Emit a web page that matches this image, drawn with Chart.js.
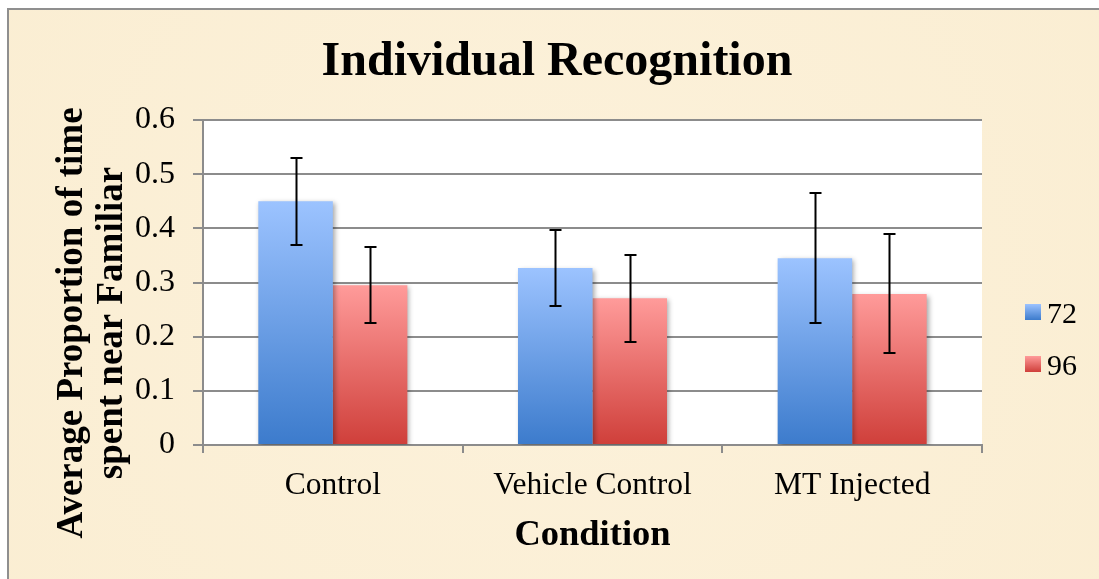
<!DOCTYPE html>
<html><head><meta charset="utf-8">
<script src="https://cdn.jsdelivr.net/npm/chart.js@4/dist/chart.umd.min.js"></script>
<style>html,body{margin:0;padding:0;background:#fff;overflow:hidden}</style>
</head><body>
<canvas id="c" width="1099" height="579"></canvas>
<script>
const categories = ['Control', 'Vehicle Control', 'MT Injected'];
const seriesNames = ['72', '96'];
const values72 = [0.450, 0.327, 0.345];
const values96 = [0.295, 0.271, 0.279];
const errors72 = [0.080, 0.070, 0.120];
const errors96 = [0.070, 0.080, 0.110];
const yTickLabels = ['0', '0.1', '0.2', '0.3', '0.4', '0.5', '0.6'];
const chartTitle = 'Individual Recognition';
const xTitle = 'Condition';
const yTitleLines = ['Average Proportion of time', 'spent near Familiar'];

const SERIF = '"Liberation Serif", "Times New Roman", serif';
const BLUE = ['#9cc3ff', '#3c7bcc'];
const RED = ['#ff9b9a', '#cf3f3a'];

function grad(cols) {
  return function (ctx) {
    const chart = ctx.chart;
    const y = chart.scales && chart.scales.y;
    if (!y || ctx.type !== 'data' || ctx.raw == null) return cols[1];
    const yTop = y.getPixelForValue(ctx.raw), yBase = y.getPixelForValue(0);
    if (!isFinite(yTop) || !isFinite(yBase) || yTop === yBase) return cols[1];
    const g = chart.ctx.createLinearGradient(0, yTop, 0, yBase);
    g.addColorStop(0, cols[0]);
    g.addColorStop(1, cols[1]);
    return g;
  };
}

const decor = {
  id: 'decor',
  beforeDraw(chart) {
    const c = chart.ctx, W = chart.width, H = chart.height, a = chart.chartArea;
    c.save();
    c.fillStyle = '#ffffff';
    c.fillRect(0, 0, W, H);
    const bg = c.createRadialGradient(W * 0.5, H * 0.5, 50, W * 0.5, H * 0.5, W * 0.7);
    bg.addColorStop(0, '#fcf1da');
    bg.addColorStop(1, '#faedd1');
    c.fillStyle = bg;
    c.fillRect(9, 10, W - 9, H - 10);
    c.strokeStyle = '#8f8f8f';
    c.lineWidth = 2;
    c.beginPath();
    c.moveTo(8, H); c.lineTo(8, 9); c.lineTo(W, 9);
    c.stroke();
    c.fillStyle = '#ffffff';
    c.fillRect(a.left, a.top, a.right - a.left, a.bottom - a.top);
    c.restore();
  },
  beforeDatasetDraw(chart) {
    const c = chart.ctx;
    c.save();
    c.shadowColor = 'rgba(0,0,0,0.35)';
    c.shadowBlur = 5;
    c.shadowOffsetX = 2;
    c.shadowOffsetY = 2;
  },
  afterDatasetDraw(chart) {
    chart.ctx.restore();
  },
  afterDatasetsDraw(chart) {
    const c = chart.ctx, y = chart.scales.y;
    c.save();
    c.strokeStyle = '#000';
    c.lineWidth = 2;
    chart.data.datasets.forEach((ds, i) => {
      const meta = chart.getDatasetMeta(i);
      meta.data.forEach((bar, j) => {
        const v = ds.data[j], e = ds.errors[j];
        const yHi = Math.round(y.getPixelForValue(v + e)), yLo = Math.round(y.getPixelForValue(v - e));
        const x = Math.round(bar.x) + 0.5;
        c.beginPath();
        c.moveTo(x, yHi); c.lineTo(x, yLo);
        c.moveTo(x - 6, yHi); c.lineTo(x + 6, yHi);
        c.moveTo(x - 6, yLo); c.lineTo(x + 6, yLo);
        c.stroke();
      });
    });
    c.restore();
  },
  afterDraw(chart) {
    const c = chart.ctx, a = chart.chartArea;
    c.save();
    c.fillStyle = '#000';
    c.textAlign = 'center';
    c.textBaseline = 'alphabetic';
    c.font = 'bold 48px ' + SERIF;
    c.fillText(chartTitle, 557, 75);
    c.font = 'bold 36.5px ' + SERIF;
    c.fillText(xTitle, (a.left + a.right) / 2, 545);
    c.save();
    c.translate(0, 323);
    c.rotate(-Math.PI / 2);
    c.font = 'bold 37px ' + SERIF;
    c.fillText(yTitleLines[0], 0, 82);
    c.fillText(yTitleLines[1], 0, 122);
    c.restore();
    // legend
    const cols = [BLUE, RED];
    const rows = [304, 356];
    c.textAlign = 'left';
    c.font = '30px ' + SERIF;
    seriesNames.forEach((n, i) => {
      const t = rows[i];
      const g = c.createLinearGradient(0, t, 0, t + 16);
      g.addColorStop(0, cols[i][0]);
      g.addColorStop(1, cols[i][1]);
      c.fillStyle = g;
      c.fillRect(1025, t, 16, 16);
      c.fillStyle = '#000';
      c.fillText(n, 1047, t + 19);
    });
    c.restore();
  }
};

new Chart(document.getElementById('c'), {
  type: 'bar',
  data: {
    labels: categories,
    datasets: [
      { label: seriesNames[0], data: values72, errors: errors72, backgroundColor: grad(BLUE), borderWidth: 0 },
      { label: seriesNames[1], data: values96, errors: errors96, backgroundColor: grad(RED), borderWidth: 0 }
    ]
  },
  options: {
    responsive: false,
    animation: false,
    devicePixelRatio: 1,
    layout: { padding: { top: 120, right: 117, left: 0, bottom: 0 } },
    datasets: { bar: { categoryPercentage: 0.574, barPercentage: 1.0 } },
    plugins: { legend: { display: false }, title: { display: false }, tooltip: { enabled: false } },
    scales: {
      x: {
        offset: true,
        grid: { offset: true, drawOnChartArea: false, drawTicks: true, tickLength: 8, color: '#8c8c8c', lineWidth: 2 },
        border: { display: true, color: '#8c8c8c', width: 2 },
        ticks: { color: '#000', font: { family: SERIF, size: 31.5 }, padding: 14, maxRotation: 0, autoSkip: false },
        afterFit(s) { s.height = 134; }
      },
      y: {
        min: 0, max: 0.6,
        ticks: { stepSize: 0.1, color: '#000', font: { family: SERIF, size: 32 }, padding: 18,
          callback: (v, i) => yTickLabels[i] },
        grid: { color: '#8c8c8c', lineWidth: 2, tickLength: 10 },
        border: { display: true, color: '#8c8c8c', width: 2 },
        afterFit(s) { s.width = 203; }
      }
    }
  },
  plugins: [decor]
});
</script>
</body></html>
